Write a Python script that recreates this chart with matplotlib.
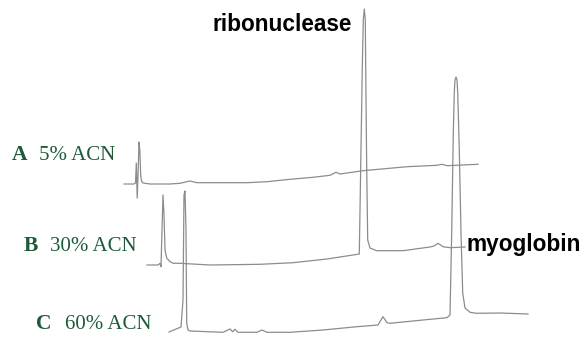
import matplotlib
matplotlib.use("Agg")
import matplotlib.pyplot as plt

# ======================================================
# Traces (time, detector signal)
# signal axis runs downward, like the source image
# ======================================================

time_a = [124, 134, 135.5, 136.3, 137.2, 138.2, 139, 139.8, 140.7, 141.5, 143,
          150, 170, 180, 190, 197, 223, 247, 267, 290, 313, 330, 336, 340,
          363, 407, 437, 442, 447, 478]
sig_a = [184, 184, 183, 163, 198, 170, 142, 150, 175, 181, 183,
         184, 184, 183.3, 181, 182.7, 182.7, 182.7, 181.7, 179.3, 177.3, 175.3, 172.3, 174,
         170.7, 166.7, 165.3, 164.3, 165.7, 164.3]

time_b = [147, 158, 160, 161, 162, 163, 164, 165, 166.7, 170, 173.3, 180, 210,
          260, 293, 327, 353, 359.3, 360.7, 362.3, 363.3, 364.3, 365.3, 365.7,
          366.7, 367.7, 370, 376.7, 403, 430, 434, 438, 443, 450, 465]
sig_b = [265, 265, 263.3, 266.7, 230, 195, 215, 250, 258, 261.7, 263.3, 263.3, 265,
         264.3, 262.7, 259, 255, 254, 167, 67, 20, 9, 20, 67,
         167, 240, 248, 250.7, 250.7, 247, 246, 243.3, 246.7, 247.7, 247]

time_c = [169, 181, 183, 184, 185, 186, 186.7, 188, 190, 223, 230, 232.7, 235, 238,
          257, 262, 267, 290, 323, 357, 378, 383, 387, 390, 423, 447, 450,
          451.7, 453.3, 454.3, 455, 456, 457, 457.7, 459.3, 461, 462.7, 465, 470, 476.7,
          500, 528]
sig_c = [332, 327, 300, 195, 191, 230, 323, 330, 331, 332.3, 329, 331.7, 329.3, 332.3,
         332.3, 330, 332.3, 332.3, 330, 326.7, 325, 316.7, 322.7, 323.3, 320, 317.7, 315,
         233, 133, 92, 80, 77, 80, 92, 150, 233, 293, 308, 312.3, 313.3,
         313, 314]

# run labels: letter, condition
run_letters = ["A", "B", "C"]
run_names = ["5% ACN", "30% ACN", "60% ACN"]
peak_names = ["ribonuclease", "myoglobin"]

# ======================================================
# Plot
# ======================================================

fig = plt.figure(figsize=(5.82, 3.39), dpi=100)
ax = fig.add_axes([0, 0, 1, 1])
ax.set_xlim(0, 582)
ax.set_ylim(339, 0)
ax.axis("off")

line_color = "#8c8c8c"
for t, s in [(time_a, sig_a), (time_b, sig_b), (time_c, sig_c)]:
    ax.plot(t, s, color=line_color, lw=0.9, solid_joinstyle="round")

green = "#1d5a38"
letter_x = [12, 24, 36]
name_x = [39, 50, 65]
label_y = [160, 251, 329]
for i in range(3):
    ax.text(letter_x[i], label_y[i], run_letters[i], family="Liberation Serif",
            fontweight="bold", fontsize=15.5, color=green, va="baseline")
    ax.text(name_x[i], label_y[i], run_names[i], family="Liberation Serif",
            fontsize=15, color=green, va="baseline")

ax.text(213, 31, peak_names[0], family="Liberation Sans", fontweight="bold",
        fontsize=16.3, color="black", va="baseline")
ax.text(467, 251, peak_names[1], family="Liberation Sans", fontweight="bold",
        fontsize=16.3, color="black", va="baseline")

fig.savefig("out.png", dpi=100)
